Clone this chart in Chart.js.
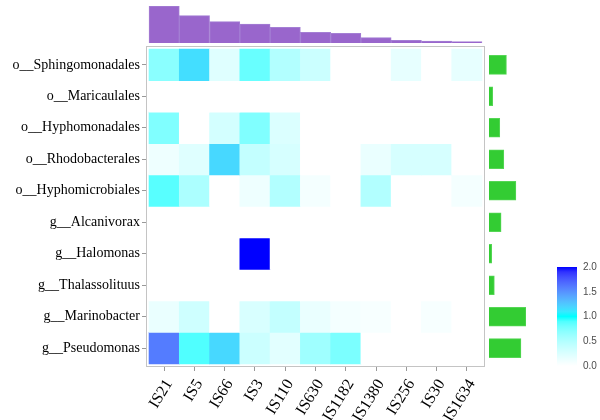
<!DOCTYPE html>
<html>
<head>
<meta charset="utf-8">
<script src="https://cdn.jsdelivr.net/npm/chart.js@4.4.1/dist/chart.umd.min.js"></script>
<style>
  body { margin: 0; background: #fff; }
  #wrap { position: relative; width: 600px; height: 420px; overflow: hidden; }
  #wrap canvas { position: absolute; left: 0; top: 0; }
</style>
</head>
<body>
<div id="wrap">
  <canvas id="heat" width="600" height="420"></canvas>
  <canvas id="topBars" width="600" height="46"></canvas>
  <canvas id="sideBars" width="600" height="420"></canvas>
  <canvas id="scaleBar" width="600" height="420"></canvas>
</div>
<script>
const columns = ['IS21', 'IS5', 'IS66', 'IS3', 'IS110', 'IS630', 'IS1182', 'IS1380', 'IS256', 'IS30', 'IS1634'];
const rows = ['o__Sphingomonadales', 'o__Maricaulales', 'o__Hyphomonadales', 'o__Rhodobacterales',
  'o__Hyphomicrobiales', 'g__Alcanivorax', 'g__Halomonas', 'g__Thalassolituus', 'g__Marinobacter', 'g__Pseudomonas'];

// one array per row, one value per column
const sphingomonadales = [0.7, 1.15, 0.22, 0.83, 0.5, 0.35, 0, 0, 0.17, 0, 0.17];
const maricaulales     = [0, 0, 0, 0, 0, 0, 0, 0, 0, 0, 0];
const hyphomonadales   = [0.74, 0, 0.3, 0.74, 0.25, 0, 0, 0, 0, 0, 0];
const rhodobacterales  = [0.12, 0.22, 1.18, 0.4, 0.28, 0, 0, 0.15, 0.28, 0.28, 0];
const hyphomicrobiales = [0.88, 0.53, 0, 0.12, 0.5, 0.08, 0, 0.5, 0, 0, 0.08];
const alcanivorax      = [0, 0, 0, 0, 0, 0, 0, 0, 0, 0, 0];
const halomonas        = [0, 0, 0, 2.0, 0, 0, 0, 0, 0, 0, 0];
const thalassolituus   = [0, 0, 0, 0, 0, 0, 0, 0, 0, 0, 0];
const marinobacter     = [0.15, 0.33, 0, 0.27, 0.4, 0.15, 0.08, 0.06, 0, 0.06, 0];
const pseudomonas      = [1.6, 0.9, 1.18, 0.35, 0.2, 0.6, 0.76, 0, 0, 0, 0];
const matrix = [sphingomonadales, maricaulales, hyphomonadales, rhodobacterales, hyphomicrobiales,
  alcanivorax, halomonas, thalassolituus, marinobacter, pseudomonas];

const columnTotals = [37, 27.3, 21.3, 19, 15.7, 10.7, 9.7, 5.3, 2.7, 2, 1.3];
const rowTotals = [17.3, 3.7, 10.7, 14.7, 26.7, 12, 2.7, 5.3, 36.7, 31.7];
const scaleTicks = [0, 0.5, 1, 1.5, 2];

// colour ramp white -> cyan -> blue, mixed in Lab like ggplot does
function lin(c) { c /= 255; return c <= 0.04045 ? c / 12.92 : Math.pow((c + 0.055) / 1.055, 2.4); }
function unlin(c) { c = c <= 0.0031308 ? 12.92 * c : 1.055 * Math.pow(c, 1 / 2.4) - 0.055; return Math.round(Math.max(0, Math.min(1, c)) * 255); }
function toLab(rgb) {
  const [r, g, b] = rgb.map(lin);
  const x = (0.4124 * r + 0.3576 * g + 0.1805 * b) / 0.95047;
  const y = 0.2126 * r + 0.7152 * g + 0.0722 * b;
  const z = (0.0193 * r + 0.1192 * g + 0.9505 * b) / 1.08883;
  const f = t => t > 0.008856 ? Math.cbrt(t) : 7.787 * t + 16 / 116;
  return [116 * f(y) - 16, 500 * (f(x) - f(y)), 200 * (f(y) - f(z))];
}
function fromLab([L, a, bb]) {
  const fy = (L + 16) / 116, fx = fy + a / 500, fz = fy - bb / 200;
  const g = t => t ** 3 > 0.008856 ? t ** 3 : (t - 16 / 116) / 7.787;
  const x = g(fx) * 0.95047, y = g(fy), z = g(fz) * 1.08883;
  const r = 3.2406 * x - 1.5372 * y - 0.4986 * z;
  const gg = -0.9689 * x + 1.8758 * y + 0.0415 * z;
  const b = 0.0557 * x - 0.2040 * y + 1.0570 * z;
  return [unlin(r), unlin(gg), unlin(b)];
}
const stops = [[255, 255, 255], [0, 255, 255], [0, 0, 255]].map(toLab);
function colorFor(v) {
  const t = Math.max(0, Math.min(2, v));
  const i = t >= 1 ? 1 : 0, k = t - i;
  const lab = stops[i].map((c, n) => c + (stops[i + 1][n] - c) * k);
  const [r, g, b] = fromLab(lab);
  return `rgb(${r},${g},${b})`;
}

const serif = { family: '"Liberation Serif", "Times New Roman", serif', size: 14 };
const frame = {
  id: 'frame',
  afterDraw(chart) {
    const { ctx, chartArea: a } = chart;
    ctx.save();
    ctx.strokeStyle = '#c4c4c4';
    ctx.lineWidth = 1;
    ctx.strokeRect(a.left + 0.5, a.top + 0.5, a.right - a.left - 1, a.bottom - a.top - 1);
    ctx.restore();
  }
};

new Chart(document.getElementById('heat'), {
  type: 'bar',
  data: {
    datasets: matrix.map((vals, i) => ({
      label: rows[i],
      data: vals.map((v, j) => ({ x: j, y: [i - 0.5, i + 0.5] })),
      backgroundColor: vals.map(colorFor),
      grouped: false,
      barPercentage: 1,
      categoryPercentage: 1,
      borderWidth: 0
    }))
  },
  options: {
    responsive: false,
    animation: false,
    layout: { padding: { top: 46, right: 115, left: 0, bottom: 0 } },
    plugins: { legend: { display: false }, tooltip: { enabled: false } },
    scales: {
      x: {
        type: 'linear', min: -0.6, max: 10.6, offset: false,
        afterBuildTicks: s => { s.ticks = columns.map((c, j) => ({ value: j })); },
        afterFit: s => { s.height = 53; },
        grid: { drawOnChartArea: false, tickLength: 4, color: '#999', offset: false },
        border: { display: false },
        ticks: {
          callback: v => columns[v], autoSkip: false, maxRotation: 58, minRotation: 58,
          font: { ...serif, size: 16 }, color: '#000', padding: 5, labelOffset: 5
        }
      },
      y: {
        type: 'linear', min: -0.6, max: 9.6, reverse: true,
        afterBuildTicks: s => { s.ticks = rows.map((r, i) => ({ value: i })); },
        afterFit: s => { s.width = 146; },
        grid: { drawOnChartArea: false, tickLength: 4, color: '#999' },
        border: { display: false },
        ticks: { callback: v => rows[v], autoSkip: false, font: serif, color: '#000', padding: 2 }
      }
    }
  },
  plugins: [frame]
});

new Chart(document.getElementById('topBars'), {
  type: 'bar',
  data: {
    datasets: [{
      data: columnTotals.map((v, j) => ({ x: j, y: v })),
      backgroundColor: '#9966cc',
      borderColor: '#a47fd4',
      borderWidth: 1,
      barPercentage: 1,
      categoryPercentage: 1
    }]
  },
  options: {
    responsive: false,
    animation: false,
    layout: { padding: { left: 146, right: 115, top: 6, bottom: 3 } },
    plugins: { legend: { display: false }, tooltip: { enabled: false } },
    scales: {
      x: { type: 'linear', min: -0.6, max: 10.6, offset: false, display: false },
      y: { min: 0, max: 37, display: false }
    }
  }
});

new Chart(document.getElementById('sideBars'), {
  type: 'bar',
  data: {
    datasets: [{
      data: rowTotals.map((v, i) => ({ y: i, x: v })),
      backgroundColor: '#33cc33',
      borderColor: '#55d655',
      borderWidth: 1,
      barPercentage: 1,
      categoryPercentage: 1
    }]
  },
  options: {
    indexAxis: 'y',
    responsive: false,
    animation: false,
    layout: { padding: { left: 489, right: 74, top: 46, bottom: 53 } },
    plugins: { legend: { display: false }, tooltip: { enabled: false } },
    scales: {
      y: { type: 'linear', min: -0.6, max: 9.6, reverse: true, offset: false, display: false },
      x: { min: 0, max: 36.7, display: false }
    }
  }
});

new Chart(document.getElementById('scaleBar'), {
  type: 'bar',
  data: {
    labels: [''],
    datasets: [{
      data: [[0, 2]],
      barPercentage: 1,
      categoryPercentage: 1,
      borderWidth: 0,
      backgroundColor: ctx => {
        const a = ctx.chart.chartArea;
        if (!a) return '#fff';
        const grad = ctx.chart.ctx.createLinearGradient(0, a.bottom, 0, a.top);
        for (let n = 0; n <= 20; n++) grad.addColorStop(n / 20, colorFor(n / 10));
        return grad;
      }
    }]
  },
  options: {
    responsive: false,
    animation: false,
    layout: { padding: { left: 557, right: 0, top: 267, bottom: 54 } },
    plugins: { legend: { display: false }, tooltip: { enabled: false } },
    scales: {
      x: { display: false },
      y: {
        position: 'right', min: 0, max: 2,
        afterBuildTicks: s => { s.ticks = scaleTicks.map(v => ({ value: v })); },
        afterFit: s => { s.width = 23; },
        grid: { display: false, drawTicks: false, tickLength: 0 },
        border: { display: false },
        ticks: {
          callback: v => v.toFixed(1), padding: 6, color: '#4d4d4d',
          font: { family: '"Liberation Sans", Arial, sans-serif', size: 10 }
        }
      }
    }
  }
});
</script>
</body>
</html>
